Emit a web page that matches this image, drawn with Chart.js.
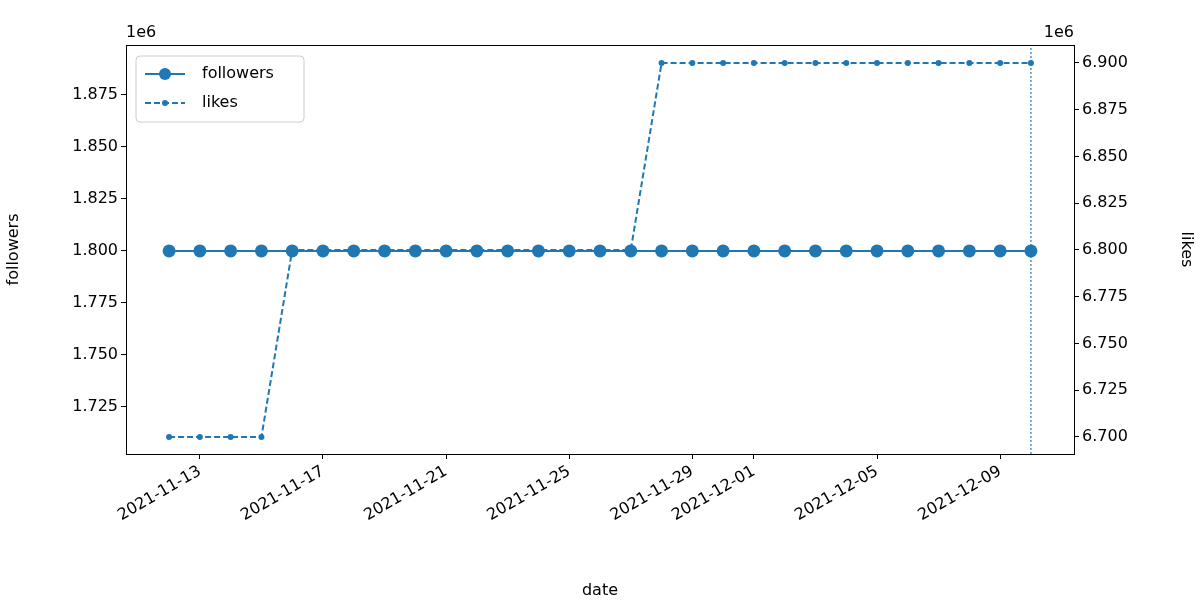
<!DOCTYPE html>
<html><head><meta charset="utf-8">
<script src="https://cdn.jsdelivr.net/npm/chart.js@4"></script>
<style>body{margin:0;background:#fff}</style>
</head><body>
<canvas id="chartId" width="1200" height="600"></canvas>
<script>
// days counted from 2021-11-12
var startDate = new Date(2021, 10, 12);
var days = [...Array(29).keys()];
var followers = days.map(() => 1800000);
var likes = [6700000,6700000,6700000,6700000,
	6800000,6800000,6800000,6800000,6800000,6800000,6800000,6800000,6800000,6800000,6800000,6800000,
	6900000,6900000,6900000,6900000,6900000,6900000,6900000,6900000,6900000,6900000,6900000,6900000,6900000];
var tickDays = [1, 5, 9, 13, 17, 19, 23, 27];
var markerDay = 28;
var blue = '#1f77b4';
var font = {family: 'DejaVu Sans', size: 16};

function dayLabel(d) {
	var dt = new Date(startDate.getTime());
	dt.setDate(dt.getDate() + d);
	return dt.getFullYear() + '-' + String(dt.getMonth() + 1).padStart(2, '0') + '-' + String(dt.getDate()).padStart(2, '0');
}

var extras = {
	id: 'extras',
	afterDraw(chart) {
		var c = chart.ctx, a = chart.chartArea;
		c.save();
		c.strokeStyle = '#000'; c.lineWidth = 1;
		c.strokeRect(a.left + 0.5, a.top + 0.5, a.right - a.left, a.bottom - a.top);
		c.fillStyle = '#000'; c.font = '16px DejaVu Sans'; c.textBaseline = 'bottom';
		c.textAlign = 'left'; c.fillText('1e6', a.left, a.top - 4);
		c.textAlign = 'right'; c.fillText('1e6', a.right, a.top - 4);
		// legend
		var lx = a.left + 10, ly = a.top + 11;
		c.strokeStyle = '#ccc'; c.fillStyle = 'rgba(255,255,255,0.8)';
		c.beginPath(); c.roundRect(lx, ly, 168, 66, 4); c.fill(); c.stroke();
		c.strokeStyle = blue; c.fillStyle = blue; c.lineWidth = 2;
		c.beginPath(); c.moveTo(lx + 9, ly + 18); c.lineTo(lx + 49, ly + 18); c.stroke();
		c.beginPath(); c.arc(lx + 29, ly + 18, 6, 0, 2 * Math.PI); c.fill();
		c.setLineDash([6, 3]);
		c.beginPath(); c.moveTo(lx + 9, ly + 47); c.lineTo(lx + 49, ly + 47); c.stroke();
		c.setLineDash([]);
		c.beginPath(); c.arc(lx + 29, ly + 47, 3, 0, 2 * Math.PI); c.fill();
		c.fillStyle = '#000'; c.textAlign = 'left'; c.textBaseline = 'middle';
		c.fillText('followers', lx + 66, ly + 18);
		c.fillText('likes', lx + 66, ly + 47);
		c.restore();
	}
};

new Chart(document.getElementById('chartId').getContext('2d'), {
	type: 'line',
	data: {
		datasets: [{
			label: 'followers', yAxisID: 'y',
			data: days.map((d, i) => ({x: d, y: followers[i]})),
			borderColor: blue, backgroundColor: blue, borderWidth: 2,
			pointRadius: 6.5, pointBorderWidth: 0
		}, {
			label: 'likes', yAxisID: 'y1',
			data: days.map((d, i) => ({x: d, y: likes[i]})),
			borderColor: blue, backgroundColor: blue, borderWidth: 2,
			borderDash: [6, 3], pointRadius: 3, pointBorderWidth: 0
		}, {
			label: 'marker', yAxisID: 'y1',
			data: [{x: markerDay, y: 6690900}, {x: markerDay, y: 6909600}],
			borderColor: blue, borderWidth: 1.2, borderDash: [2, 2], pointRadius: 0
		}]
	},
	options: {
		responsive: false, animation: false,
		layout: {padding: {top: 45, left: 0, right: 0, bottom: 0}},
		plugins: {legend: {display: false}, tooltip: {enabled: false}},
		scales: {
			x: {
				type: 'linear', min: -1.4, max: 29.4,
				afterBuildTicks: s => { s.ticks = tickDays.map(v => ({value: v})); },
				afterFit: s => { s.height = 146; },
				ticks: {font: font, color: '#000', minRotation: 30, maxRotation: 30, autoSkip: false, callback: v => dayLabel(v)},
				grid: {drawOnChartArea: false, tickLength: 5, color: '#000'},
				border: {color: '#000'},
				title: {display: true, text: 'date', font: font, color: '#000', padding: 0}
			},
			y: {
				position: 'left', min: 1702400, max: 1899000,
				afterBuildTicks: s => { s.ticks = [1725000,1750000,1775000,1800000,1825000,1850000,1875000].map(v => ({value: v})); },
				afterFit: s => { s.width = 126; },
				ticks: {font: font, color: '#000', callback: v => (v / 1e6).toFixed(3)},
				grid: {drawOnChartArea: false, tickLength: 5, color: '#000'},
				border: {color: '#000'},
				title: {display: true, text: 'followers', font: font, color: '#000', padding: 4}
			},
			y1: {
				position: 'right', min: 6690900, max: 6909600,
				afterBuildTicks: s => { var t = []; for (var v = 6700000; v <= 6900000; v += 25000) t.push({value: v}); s.ticks = t; },
				afterFit: s => { s.width = 126; },
				ticks: {font: font, color: '#000', callback: v => (v / 1e6).toFixed(3)},
				grid: {drawOnChartArea: false, tickLength: 5, color: '#000'},
				border: {color: '#000'},
				title: {display: true, text: 'likes', font: font, color: '#000', padding: 4}
			}
		}
	},
	plugins: [extras]
});
</script>
</body></html>
